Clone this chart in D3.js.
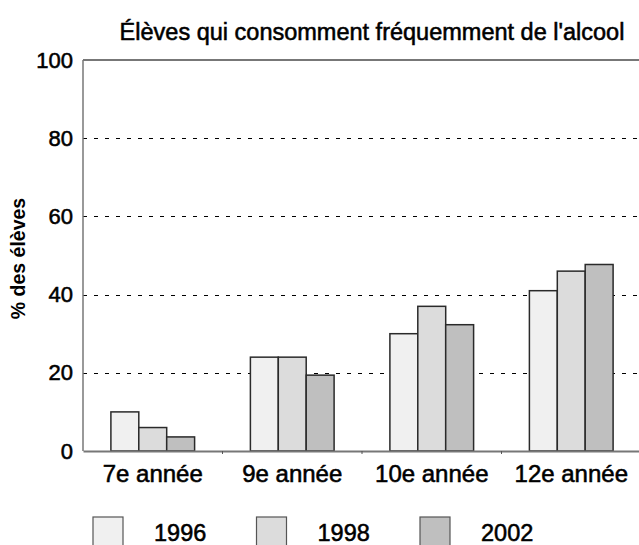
<!DOCTYPE html>
<html>
<head>
<meta charset="utf-8">
<script src="https://cdn.jsdelivr.net/npm/d3@7"></script>
<style>
  body { margin: 0; background: #fff; }
  text { font-family: "Liberation Sans", Arial, sans-serif; fill: #000; }
  .heavy { stroke: #000; stroke-width: 0.55px; }
</style>
</head>
<body>
<div id="chart"></div>
<script>
// data
const categories = ["7e année", "9e année", "10e année", "12e année"];
const years = ["1996", "1998", "2002"];
const v1996 = [10, 24, 30, 41];
const v1998 = [6, 24, 37, 46];
const v2002 = [3.6, 19.4, 32.3, 47.7];
const yTicks = [0, 20, 40, 60, 80, 100];
const colors = ["#f0f0f0", "#dcdcdc", "#bfbfbf"];

const W = 639, H = 545;
const margin = {top: 60, right: -2, bottom: 94, left: 83};

const svg = d3.select("#chart").append("svg")
  .attr("width", W).attr("height", H);

const series = [v1996, v1998, v2002];
const rows = categories.map((c, i) => ({cat: c, vals: series.map(s => s[i])}));

const x = d3.scaleBand()
  .domain(categories)
  .range([margin.left, W - margin.right])
  .paddingInner(0).paddingOuter(0);

// bars take ~60% of each group, centred
const xs = d3.scaleBand()
  .domain(years)
  .range([x.bandwidth() * 0.2, x.bandwidth() * 0.8]);

const y = d3.scaleLinear()
  .domain([0, 100])
  .range([H - margin.bottom, margin.top]);

// dotted grid
svg.append("g")
  .selectAll("line")
  .data(yTicks.filter(d => d > 0 && d < 100))
  .join("line")
    .attr("x1", margin.left).attr("x2", W)
    .attr("y1", d => Math.round(y(d)) + 0.5).attr("y2", d => Math.round(y(d)) + 0.5)
    .attr("stroke", "#000")
    .attr("stroke-width", 1)
    .attr("stroke-dasharray", "4,7");

// frame lines (left, top)
svg.append("line")
  .attr("x1", margin.left).attr("x2", margin.left)
  .attr("y1", y(100)).attr("y2", y(0))
  .attr("stroke", "#777").attr("stroke-width", 1.5);
svg.append("line")
  .attr("x1", margin.left).attr("x2", W)
  .attr("y1", y(100)).attr("y2", y(100))
  .attr("stroke", "#777").attr("stroke-width", 2);

// bars
const groups = svg.append("g")
  .selectAll("g")
  .data(rows)
  .join("g")
    .attr("transform", d => `translate(${x(d.cat)},0)`);

groups.selectAll("rect")
  .data(d => d.vals.map((v, i) => ({year: years[i], v: v, i: i})))
  .join("rect")
    .attr("x", d => xs(d.year))
    .attr("y", d => y(d.v))
    .attr("width", xs.bandwidth())
    .attr("height", d => y(0) - y(d.v))
    .attr("fill", d => colors[d.i])
    .attr("stroke", "#2a2a2a")
    .attr("stroke-width", 1.5);

// bottom axis
const xAxis = svg.append("g")
  .attr("transform", `translate(0,${y(0)})`)
  .call(d3.axisBottom(x).tickSize(0).tickPadding(9));
xAxis.select(".domain").attr("stroke", "#777").attr("stroke-width", 2);
xAxis.selectAll("text")
  .attr("class", "heavy")
  .style("font-size", "24px")
  .attr("dy", "0.9em");
// small separators between groups
svg.append("g")
  .selectAll("line")
  .data(categories.slice(1))
  .join("line")
    .attr("x1", d => x(d)).attr("x2", d => x(d))
    .attr("y1", y(0)).attr("y2", y(0) + 3)
    .attr("stroke", "#555");

// y axis labels
const yAxis = svg.append("g")
  .attr("transform", `translate(${margin.left},0)`)
  .call(d3.axisLeft(y).tickValues(yTicks).tickSize(0).tickPadding(10));
yAxis.select(".domain").remove();
yAxis.selectAll("text")
  .attr("class", "heavy")
  .style("font-size", "22px");

// y title
svg.append("text")
  .attr("transform", `translate(25,${(y(0) + y(100)) / 2 + 3}) rotate(-90)`)
  .attr("text-anchor", "middle")
  .style("font-size", "19.5px")
  .style("font-weight", "bold")
  .text("% des élèves");

// title
svg.append("text")
  .attr("class", "heavy")
  .attr("x", 372).attr("y", 40)
  .attr("text-anchor", "middle")
  .style("font-size", "23.5px")
  .text("Élèves qui consomment fréquemment de l'alcool");

// legend
const lx = d3.scaleLinear().domain([0, 2]).range([93, 420]);
const leg = svg.append("g")
  .selectAll("g")
  .data(years)
  .join("g")
    .attr("transform", (d, i) => `translate(${lx(i)},517)`);
leg.append("rect")
  .attr("width", 30).attr("height", 32)
  .attr("fill", (d, i) => colors[i])
  .attr("stroke", "#555").attr("stroke-width", 1.2);
leg.append("text")
  .attr("class", "heavy")
  .attr("x", 61).attr("y", 24)
  .style("font-size", "23.5px")
  .text(d => d);
</script>
</body>
</html>
